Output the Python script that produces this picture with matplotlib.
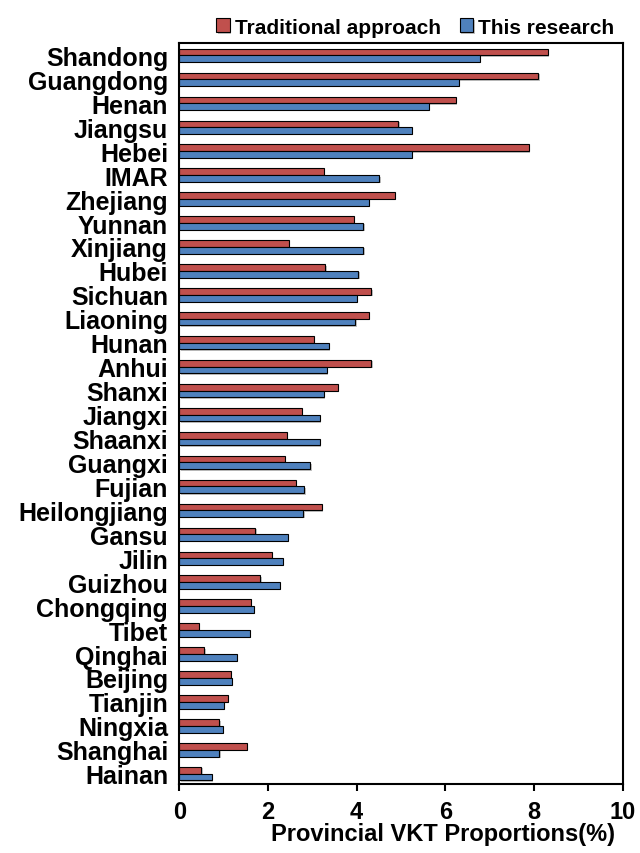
import numpy as np
import matplotlib
matplotlib.use('Agg')
import matplotlib.pyplot as plt
import matplotlib.patheffects as pe

plt.rcParams['font.family'] = ['Liberation Sans', 'DejaVu Sans']
plt.rcParams['font.weight'] = 'bold'

provinces = ['Shandong', 'Guangdong', 'Henan', 'Jiangsu', 'Hebei', 'IMAR', 'Zhejiang',
             'Yunnan', 'Xinjiang', 'Hubei', 'Sichuan', 'Liaoning', 'Hunan', 'Anhui',
             'Shanxi', 'Jiangxi', 'Shaanxi', 'Guangxi', 'Fujian', 'Heilongjiang', 'Gansu',
             'Jilin', 'Guizhou', 'Chongqing', 'Tibet', 'Qinghai', 'Beijing', 'Tianjin',
             'Ningxia', 'Shanghai', 'Hainan']
traditional = [8.31, 8.10, 6.23, 4.94, 7.88, 3.26, 4.86, 3.93, 2.47, 3.29, 4.33, 4.28,
               3.04, 4.33, 3.58, 2.76, 2.43, 2.38, 2.63, 3.22, 1.72, 2.09, 1.83, 1.61,
               0.44, 0.57, 1.16, 1.10, 0.90, 1.53, 0.50]
this_research = [6.78, 6.31, 5.63, 5.25, 5.25, 4.51, 4.28, 4.15, 4.15, 4.04, 4.00, 3.97,
                 3.38, 3.33, 3.26, 3.17, 3.17, 2.96, 2.82, 2.80, 2.45, 2.34, 2.27, 1.68,
                 1.59, 1.30, 1.18, 1.01, 0.98, 0.90, 0.74]

y = np.arange(len(provinces))
h = 0.28
shadow = [pe.SimplePatchShadow(offset=(1, -1), shadow_rgbFace='0.6', alpha=0.6), pe.Normal()]

fig = plt.figure(figsize=(6.4, 8.54), dpi=100)
ax = fig.add_axes([0.280, 0.081, 0.693, 0.867])
b1 = ax.barh(y - h / 2, traditional, height=h, color='#C0504D', edgecolor='black',
             linewidth=0.8, label='Traditional approach')
b2 = ax.barh(y + h / 2, this_research, height=h, color='#4F81BD', edgecolor='black',
             linewidth=0.8, label='This research')
for b in list(b1) + list(b2):
    b.set_path_effects(shadow)

ax.set_xlim(0, 10)
ax.set_ylim(len(provinces) - 0.58, -0.5)
ax.set_yticks(y)
ax.set_yticklabels(provinces, fontsize=18, fontweight='bold')
ax.tick_params(axis='y', length=0, pad=8)
ax.set_xticks([0, 2, 4, 6, 8, 10])
ax.tick_params(axis='x', direction='out', length=5, width=1.5, labelsize=17, pad=7)
for lab in ax.get_xticklabels():
    lab.set_fontweight('bold')
for s in ax.spines.values():
    s.set_linewidth(1.5)
ax.set_xlabel('Provincial VKT Proportions(%)', fontsize=17, fontweight='bold')
ax.xaxis.set_label_coords(0.595, -0.052)

ax.legend(loc='lower right', bbox_to_anchor=(1.005, 0.995), ncol=2, frameon=False,
          fontsize=15, handlelength=0.65, handleheight=0.65, handletextpad=0.25,
          columnspacing=0.9, borderaxespad=0.1)

fig.savefig('out.png', dpi=100)
